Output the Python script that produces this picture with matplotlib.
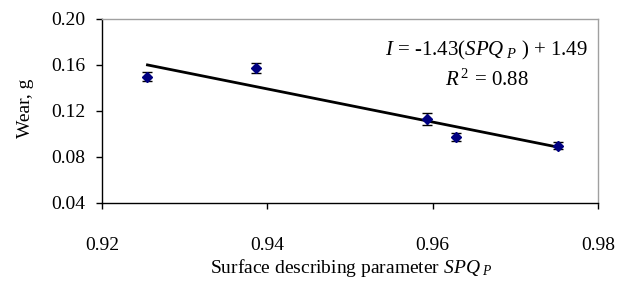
import numpy as np
import matplotlib.pyplot as plt

plt.rcParams['font.family'] = ['Liberation Serif', 'DejaVu Serif']
plt.rcParams['mathtext.fontset'] = 'custom'
plt.rcParams['mathtext.rm'] = 'Liberation Serif'
plt.rcParams['mathtext.it'] = 'Liberation Serif:italic'

# data
spq = [0.9255, 0.9386, 0.9593, 0.9628, 0.9752]
wear = [0.1494, 0.1570, 0.1126, 0.0970, 0.0894]
wear_err = [0.0040, 0.0045, 0.0055, 0.0035, 0.0030]

x_ticks = [0.92, 0.94, 0.96, 0.98]
y_ticks = [0.04, 0.08, 0.12, 0.16, 0.20]

fig = plt.figure(figsize=(6.24, 2.85), dpi=100)
ax = fig.add_axes([102 / 624, 1 - 202.5 / 285, (598 - 102) / 624, (202.5 - 18.5) / 285])

# linear trend line
k, b = np.polyfit(spq, wear, 1)
xs = np.array([min(spq), max(spq)])
ax.plot(xs, k * xs + b, color='black', lw=2, zorder=2)

ax.errorbar(spq, wear, yerr=wear_err, fmt='D', color='#000080', ms=5,
            ecolor='black', elinewidth=1, capsize=3.5, capthick=1, zorder=3)

ax.set_xlim(0.92, 0.98)
ax.set_ylim(0.04, 0.20)
ax.set_xticks(x_ticks)
ax.set_yticks(y_ticks)
ax.set_xticklabels(['%.2f' % v for v in x_ticks])
ax.set_yticklabels(['%.2f' % v for v in y_ticks])
ax.tick_params(labelsize=14, length=4, width=1, direction='out', color='black')
ax.tick_params(axis='y', pad=8)
ax.tick_params(axis='x', pad=21)

for s in ['top', 'right']:
    ax.spines[s].set_color('#a0a0a0')
    ax.spines[s].set_linewidth(1)
for s in ['left', 'bottom']:
    ax.spines[s].set_color('black')
    ax.spines[s].set_linewidth(1)

ax.text(486 / 624, 1 - 50 / 285, r'$I$ = -1.43($SPQ_{\ P}$ ) + 1.49', transform=fig.transFigure,
        ha='center', va='center', fontsize=15)
ax.text(487 / 624, 1 - 80 / 285, r'$R^{\,2}$ = 0.88', transform=fig.transFigure,
        ha='center', va='center', fontsize=15)

fig.text(26 / 624, 1 - 108 / 285, 'Wear, g', rotation=90, ha='center', va='center', fontsize=14)
fig.text(351 / 624, 1 - 268 / 285, r'Surface describing parameter $SPQ_{\ P}$',
         ha='center', va='center', fontsize=14)

fig.savefig('out.png', dpi=100)
